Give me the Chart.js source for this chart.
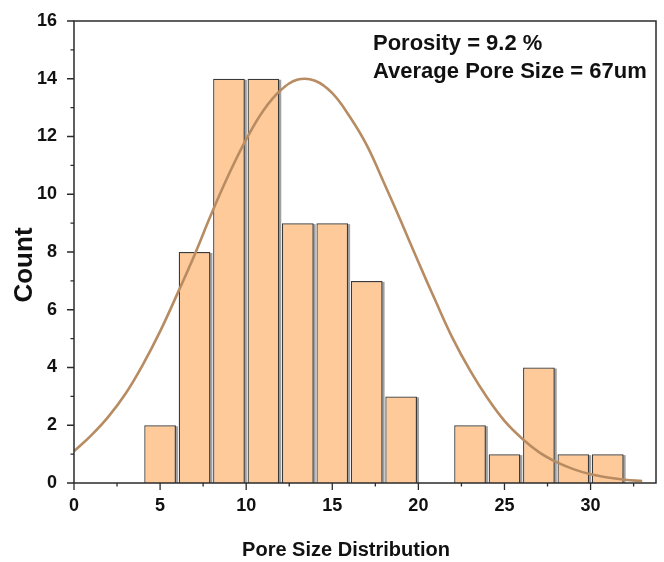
<!DOCTYPE html>
<html>
<head>
<meta charset="utf-8">
<script src="https://cdn.jsdelivr.net/npm/chart.js@4.4.1/dist/chart.umd.min.js"></script>
<style>
  body { margin: 0; background: #fff; }
  #wrap { width: 664px; height: 562px; }
</style>
</head>
<body>
<div id="wrap"><canvas id="hist" width="664" height="562"></canvas></div>
<script>
// histogram bins (centre of each 2-wide bin) and counts
const binCenters = [5, 7, 9, 11, 13, 15, 17, 19, 23, 25, 27, 29, 31];
const counts = [2, 8, 14, 14, 9, 9, 7, 3, 2, 1, 4, 1, 1];

// fitted normal curve
const curveX = [0, 1, 2, 3, 4, 5, 6, 7, 8, 9, 10, 11, 12, 13, 14, 15, 16,
                17, 18, 19, 20, 21, 22, 23, 24, 25, 26, 27, 28, 29, 30, 31, 32, 33];
const curveY = [1.1, 1.65, 2.3, 3.1, 4.1, 5.25, 6.55, 7.9, 9.35, 10.7, 11.9, 12.9, 13.6, 13.97,
                13.93, 13.5, 12.7, 11.7, 10.4, 9.05, 7.65, 6.3, 5.0, 3.9, 2.95, 2.15, 1.55,
                1.07, 0.73, 0.48, 0.3, 0.19, 0.11, 0.07];

const xMajor = [0, 5, 10, 15, 20, 25, 30];
const xMinor = [2.5, 7.5, 12.5, 17.5, 22.5, 27.5, 32.5];
const yMajor = [0, 2, 4, 6, 8, 10, 12, 14, 16];
const yMinor = [1, 3, 5, 7, 9, 11, 13, 15];

const xTitle = 'Pore Size Distribution';
const yTitle = 'Count';
const notes = ['Porosity = 9.2 %', 'Average Pore Size = 67um'];

const FONT = '"Liberation Sans", Arial, sans-serif';

// gray drop shadow on right side of each bar + frame, ticks, titles
const decor = {
  id: 'decor',
  beforeDatasetDraw(chart, args) {
    if (args.index !== 0) return;
    const ctx = chart.ctx;
    ctx.save();
    ctx.fillStyle = '#a0a0a0';
    args.meta.data.forEach(b => {
      const p = b.getProps(['x', 'y', 'base', 'width'], true);
      ctx.fillRect(p.x - p.width / 2 + 2, p.y + 1, p.width, p.base - p.y - 1);
    });
    ctx.restore();
  },
  afterDraw(chart) {
    const ctx = chart.ctx;
    const a = chart.chartArea;
    const xs = chart.scales.x, ys = chart.scales.y;
    ctx.save();
    ctx.strokeStyle = '#2b2b2b';
    ctx.lineWidth = 1.5;
    ctx.strokeRect(a.left, a.top, a.right - a.left, a.bottom - a.top);

    ctx.lineWidth = 1.3;
    ctx.beginPath();
    xMajor.forEach(v => { const px = xs.getPixelForValue(v); ctx.moveTo(px, a.bottom); ctx.lineTo(px, a.bottom + 7); });
    xMinor.forEach(v => { const px = xs.getPixelForValue(v); ctx.moveTo(px, a.bottom); ctx.lineTo(px, a.bottom + 3.5); });
    yMajor.forEach(v => { const py = ys.getPixelForValue(v); ctx.moveTo(a.left, py); ctx.lineTo(a.left - 7, py); });
    yMinor.forEach(v => { const py = ys.getPixelForValue(v); ctx.moveTo(a.left, py); ctx.lineTo(a.left - 3.5, py); });
    ctx.stroke();

    ctx.fillStyle = '#111';
    ctx.textAlign = 'left';
    ctx.textBaseline = 'alphabetic';
    ctx.font = 'bold 22px ' + FONT;
    ctx.fillText(notes[0], 373, 50);
    ctx.fillText(notes[1], 373, 78);

    ctx.textAlign = 'center';
    ctx.font = 'bold 20px ' + FONT;
    ctx.fillText(xTitle, 346, 556);

    ctx.translate(32, 265);
    ctx.rotate(-Math.PI / 2);
    ctx.font = 'bold 26px ' + FONT;
    ctx.fillText(yTitle, 0, 0);
    ctx.restore();
  }
};

new Chart(document.getElementById('hist'), {
  type: 'bar',
  data: {
    datasets: [
      {
        label: 'Count',
        data: binCenters.map((x, i) => ({ x: x, y: counts[i] })),
        backgroundColor: '#FFCA99',
        borderColor: '#3a3a3a',
        borderWidth: 1.3,
        categoryPercentage: 1,
        barPercentage: 0.92,
        order: 2
      },
      {
        type: 'line',
        label: 'Normal fit',
        data: curveX.map((x, i) => ({ x: x, y: curveY[i] })),
        borderColor: '#B88C63',
        borderWidth: 2.6,
        pointRadius: 0,
        tension: 0.4,
        fill: false,
        order: 1
      }
    ]
  },
  options: {
    responsive: false,
    animation: false,
    devicePixelRatio: 1,
    layout: { padding: { left: 0, top: 21, right: 8, bottom: 0 } },
    plugins: { legend: { display: false }, tooltip: { enabled: false } },
    scales: {
      x: {
        type: 'linear',
        min: 0,
        max: 33.8,
        offset: false,
        grid: { display: false },
        border: { display: false },
        ticks: {
          stepSize: 5,
          autoSkip: false,
          maxRotation: 0,
          padding: 4,
          color: '#111',
          font: { family: FONT, size: 18, weight: 'bold' },
          callback: v => (v % 5 === 0 ? v : '')
        },
        afterFit: s => { s.height = 79; s.paddingLeft = 0; s.paddingRight = 0; }
      },
      y: {
        min: 0,
        max: 16,
        grid: { display: false },
        border: { display: false },
        ticks: {
          stepSize: 2,
          padding: 9,
          color: '#111',
          font: { family: FONT, size: 18, weight: 'bold' }
        },
        afterFit: s => { s.width = 74; s.paddingTop = 0; s.paddingBottom = 0; }
      }
    }
  },
  plugins: [decor]
});
</script>
</body>
</html>
